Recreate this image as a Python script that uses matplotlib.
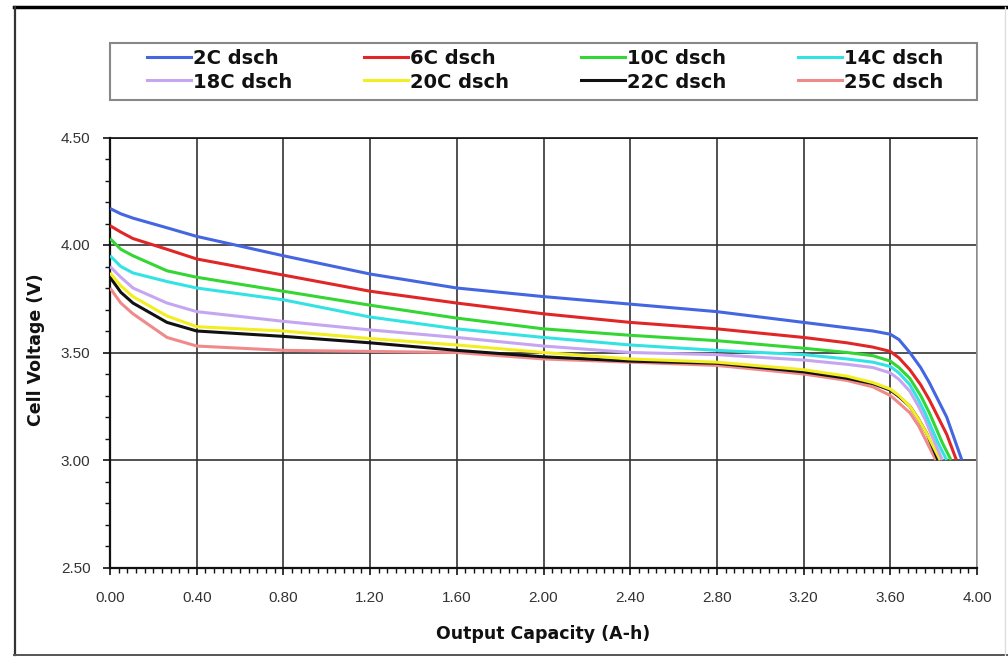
import matplotlib
matplotlib.use("Agg")
import matplotlib.pyplot as plt
from matplotlib.ticker import MultipleLocator, FormatStrFormatter
from matplotlib.lines import Line2D
from matplotlib.patches import Rectangle

# ---- data ----
labels = ["2C dsch", "6C dsch", "10C dsch", "14C dsch",
          "18C dsch", "20C dsch", "22C dsch", "25C dsch"]
colors = ["#4466E0", "#E02626", "#33D633", "#33E3E3",
          "#C6A6F0", "#F2EE22", "#111111", "#F08A8A"]

x_2c = [0, 0.05, 0.106, 0.263, 0.4, 0.8, 1.2, 1.6, 2.0, 2.4, 2.8, 3.2, 3.4, 3.52, 3.6, 3.64, 3.69, 3.74, 3.78, 3.86, 3.93]
v_2c = [4.17, 4.145, 4.125, 4.08, 4.04, 3.95, 3.865, 3.80, 3.76, 3.725, 3.69, 3.64, 3.615, 3.60, 3.585, 3.56, 3.50, 3.43, 3.36, 3.20, 3.00]

x_6c = [0, 0.05, 0.106, 0.263, 0.4, 0.8, 1.2, 1.6, 2.0, 2.4, 2.8, 3.2, 3.4, 3.52, 3.6, 3.64, 3.69, 3.74, 3.78, 3.86, 3.905]
v_6c = [4.09, 4.06, 4.03, 3.98, 3.935, 3.86, 3.785, 3.73, 3.68, 3.64, 3.61, 3.57, 3.545, 3.525, 3.505, 3.475, 3.42, 3.35, 3.28, 3.12, 3.00]

x_10c = [0, 0.05, 0.106, 0.263, 0.4, 0.8, 1.2, 1.6, 2.0, 2.4, 2.8, 3.2, 3.4, 3.52, 3.6, 3.64, 3.69, 3.74, 3.78, 3.84, 3.88]
v_10c = [4.03, 3.98, 3.95, 3.88, 3.85, 3.785, 3.72, 3.66, 3.61, 3.58, 3.555, 3.52, 3.50, 3.485, 3.46, 3.43, 3.38, 3.30, 3.22, 3.08, 3.00]

x_14c = [0, 0.05, 0.106, 0.263, 0.4, 0.8, 1.2, 1.6, 2.0, 2.4, 2.8, 3.2, 3.4, 3.52, 3.6, 3.64, 3.69, 3.73, 3.76, 3.82, 3.86]
v_14c = [3.95, 3.90, 3.87, 3.83, 3.80, 3.745, 3.665, 3.61, 3.57, 3.535, 3.51, 3.49, 3.47, 3.455, 3.435, 3.405, 3.35, 3.28, 3.22, 3.08, 3.00]

x_18c = [0, 0.05, 0.106, 0.263, 0.4, 0.8, 1.2, 1.6, 2.0, 2.4, 2.8, 3.2, 3.4, 3.52, 3.6, 3.64, 3.69, 3.73, 3.76, 3.81, 3.84]
v_18c = [3.90, 3.85, 3.80, 3.73, 3.69, 3.645, 3.605, 3.57, 3.53, 3.50, 3.49, 3.465, 3.445, 3.43, 3.405, 3.375, 3.32, 3.25, 3.19, 3.07, 3.00]

x_20c = [0, 0.05, 0.106, 0.263, 0.4, 0.8, 1.2, 1.6, 2.0, 2.4, 2.8, 3.2, 3.4, 3.52, 3.6, 3.64, 3.69, 3.73, 3.77, 3.83]
v_20c = [3.87, 3.81, 3.76, 3.67, 3.62, 3.60, 3.565, 3.535, 3.50, 3.47, 3.455, 3.42, 3.39, 3.36, 3.33, 3.30, 3.25, 3.19, 3.12, 3.00]

x_22c = [0, 0.05, 0.106, 0.263, 0.4, 0.8, 1.2, 1.6, 2.0, 2.4, 2.8, 3.2, 3.4, 3.52, 3.6, 3.64, 3.69, 3.73, 3.77, 3.82]
v_22c = [3.85, 3.78, 3.73, 3.64, 3.60, 3.575, 3.545, 3.51, 3.48, 3.46, 3.45, 3.41, 3.38, 3.355, 3.325, 3.295, 3.25, 3.19, 3.12, 3.00]

x_25c = [0, 0.05, 0.106, 0.263, 0.4, 0.8, 1.2, 1.6, 2.0, 2.4, 2.8, 3.2, 3.4, 3.52, 3.6, 3.64, 3.69, 3.73, 3.76, 3.81]
v_25c = [3.80, 3.73, 3.68, 3.57, 3.53, 3.51, 3.505, 3.50, 3.47, 3.455, 3.44, 3.40, 3.37, 3.34, 3.30, 3.265, 3.22, 3.16, 3.10, 3.00]

xs = [x_2c, x_6c, x_10c, x_14c, x_18c, x_20c, x_22c, x_25c]
vs = [v_2c, v_6c, v_10c, v_14c, v_18c, v_20c, v_22c, v_25c]

x_label = "Output Capacity (A-h)"
y_label = "Cell Voltage (V)"

# ---- figure ----
W, H = 1008, 659
fig = plt.figure(figsize=(W / 100, H / 100), dpi=100)
fig.patch.set_facecolor("white")

def fx(px):
    return px / W

def fy(py):
    return 1 - py / H

ax = fig.add_axes([fx(110), fy(567.5), fx(977) - fx(110), fy(137.5) - fy(567.5)])

# draw from last to first so that the high-rate curves sit underneath
for i in reversed(range(len(labels))):
    ax.plot(xs[i], vs[i], color=colors[i], lw=2.2, solid_capstyle="butt",
            solid_joinstyle="round", zorder=3 + (len(labels) - i) * 0.01)

ax.set_xlim(0, 4.0)
ax.set_ylim(2.5, 4.5)
ax.xaxis.set_major_locator(MultipleLocator(0.4))
ax.xaxis.set_minor_locator(MultipleLocator(0.04))
ax.yaxis.set_major_locator(MultipleLocator(0.5))
ax.yaxis.set_minor_locator(MultipleLocator(0.1))
ax.xaxis.set_major_formatter(FormatStrFormatter("%.2f"))
ax.yaxis.set_major_formatter(FormatStrFormatter("%.2f"))

ax.grid(True, which="major", color="#333333", lw=1.2, zorder=1)
ax.set_axisbelow(True)

for s in ["left", "bottom", "top"]:
    ax.spines[s].set_color("#111111")
    ax.spines[s].set_linewidth(1.6)
ax.spines["top"].set_linewidth(1.2)
ax.spines["right"].set_color("#999999")
ax.spines["right"].set_linewidth(1.2)

ax.tick_params(axis="both", which="major", direction="out", length=5, width=1.2,
               color="#111111", labelcolor="#333333", labelsize=11)
ax.tick_params(axis="both", which="minor", direction="out", length=3.5, width=1.0,
               color="#111111")
ax.tick_params(axis="x", which="major", pad=12)
ax.tick_params(axis="y", which="major", pad=9)
for lab in ax.get_xticklabels() + ax.get_yticklabels():
    lab.set_fontfamily(["Liberation Sans", "DejaVu Sans"])

fig.text(fx(543), fy(634), x_label, ha="center", va="center",
         fontsize=12.5, fontweight="bold", family="DejaVu Sans", color="#111111")
fig.text(fx(36), fy(350), y_label, ha="center", va="center", rotation=90,
         fontsize=12.5, fontweight="bold", family="DejaVu Sans", color="#111111")

# legend box drawn by hand, row-wise 4 columns
fig.add_artist(Rectangle((fx(110), fy(100)), fx(977) - fx(110), fy(43) - fy(100),
                         transform=fig.transFigure, facecolor="white",
                         edgecolor="#888888", lw=1.5))
col_w = 217
row_y = [57, 80]
for k, lab in enumerate(labels):
    r, c = divmod(k, 4)
    x0 = 147 + col_w * c
    y0 = row_y[r]
    fig.add_artist(Line2D([fx(x0), fx(x0 + 44)], [fy(y0), fy(y0)],
                          color=colors[k], lw=2.2))
    fig.text(fx(x0 + 46), fy(y0), lab, ha="left", va="center_baseline",
             fontsize=14, fontweight="bold", family="DejaVu Sans", color="#111111")

# outer frame
fig.add_artist(Line2D([fx(14), fx(1008)], [fy(7), fy(7)], color="#000000", lw=2.5))
fig.add_artist(Line2D([fx(15), fx(15)], [fy(7), fy(655)], color="#333333", lw=1.6))
fig.add_artist(Line2D([fx(14), fx(1008)], [fy(655), fy(655)], color="#555555", lw=1.4))
fig.add_artist(Line2D([fx(1005), fx(1005)], [fy(7), fy(655)], color="#dddddd", lw=1.0))

fig.savefig("out.png", dpi=100, facecolor="white")
